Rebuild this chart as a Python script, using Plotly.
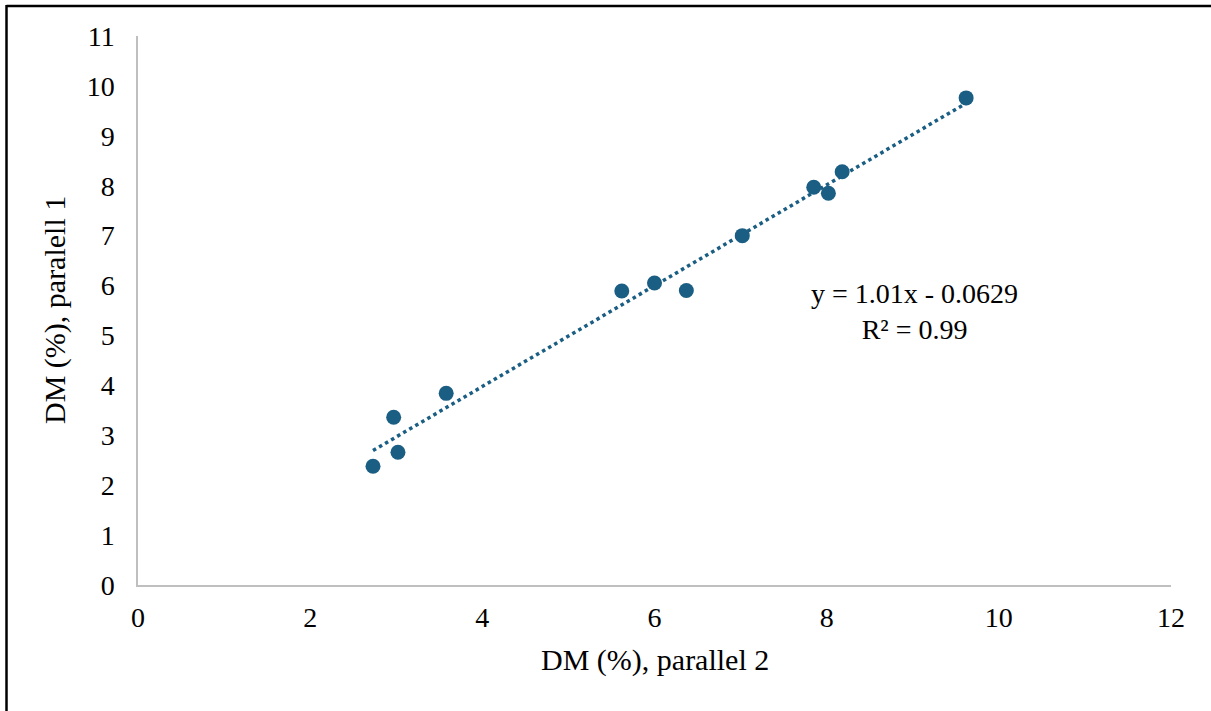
import plotly.graph_objects as go
import numpy as np

# Data
dm_parallel2 = [2.73, 2.97, 3.02, 3.58, 5.62, 6.00, 6.37, 7.02, 7.85, 8.02, 8.18, 9.62]
dm_parallel1 = [2.38, 3.36, 2.66, 3.84, 5.89, 6.05, 5.90, 7.00, 7.97, 7.85, 8.28, 9.76]
slope = 1.01
intercept = -0.0629
r2_text = "0.99"
x_ticks = [0, 2, 4, 6, 8, 10, 12]
y_ticks = list(range(0, 12))

W, H = 1211, 711
L, R, T, B = 138, 40, 36, 126
pw, ph = W - L - R, H - T - B

def px_x(p):
    return (p - L) / pw

def px_y(p):
    return (H - B - p) / ph

color = "#1b5e83"
font = "Liberation Serif, Times New Roman, serif"

x_line = np.array([min(dm_parallel2), max(dm_parallel2)])
y_line = slope * x_line + intercept

fig = go.Figure()
fig.add_trace(go.Scatter(
    x=x_line, y=y_line, mode="lines",
    line=dict(color=color, width=3.5, dash="3.5px,3.5px"),
    showlegend=False, hoverinfo="skip"))
fig.add_trace(go.Scatter(
    x=dm_parallel2, y=dm_parallel1, mode="markers",
    marker=dict(color=color, size=15, line=dict(width=0)),
    showlegend=False))

fig.update_layout(
    width=W, height=H,
    margin=dict(l=L, r=R, t=T, b=B, pad=0),
    paper_bgcolor="white", plot_bgcolor="white",
    font=dict(family=font, size=28, color="black"),
    xaxis=dict(range=[0, 12], tickvals=x_ticks, showgrid=False, zeroline=False,
               showline=True, linecolor="#bfbfbf", linewidth=1.5,
               ticks="outside", ticklen=7, tickcolor="rgba(0,0,0,0)",
               tickfont=dict(size=28)),
    yaxis=dict(range=[0, 11], tickvals=y_ticks, showgrid=False, zeroline=False,
               showline=True, linecolor="#bfbfbf", linewidth=1.5,
               ticks="outside", ticklen=16, tickcolor="rgba(0,0,0,0)",
               tickfont=dict(size=28)),
    annotations=[
        dict(text="DM (%), parallel 2", xref="paper", yref="paper",
             x=px_x(655), y=px_y(660), xanchor="center", yanchor="middle",
             showarrow=False, font=dict(size=30)),
        dict(text="DM (%), paralell 1", xref="paper", yref="paper",
             x=px_x(55), y=px_y(310), xanchor="center", yanchor="middle",
             textangle=-90, showarrow=False, font=dict(size=30)),
        dict(text=f"y = {slope}x - {abs(intercept)}<br>R² = {r2_text}",
             xref="paper", yref="paper", x=px_x(914), y=px_y(311),
             xanchor="center", yanchor="middle", align="center",
             showarrow=False, font=dict(size=28)),
    ],
    shapes=[
        dict(type="line", xref="paper", yref="paper",
             x0=px_x(6.5), x1=px_x(W + 5), y0=px_y(6), y1=px_y(6),
             line=dict(color="black", width=2.5)),
        dict(type="line", xref="paper", yref="paper",
             x0=px_x(6.5), x1=px_x(6.5), y0=px_y(5), y1=px_y(H + 5),
             line=dict(color="black", width=2.5)),
    ],
)

fig.write_html("out.html")
